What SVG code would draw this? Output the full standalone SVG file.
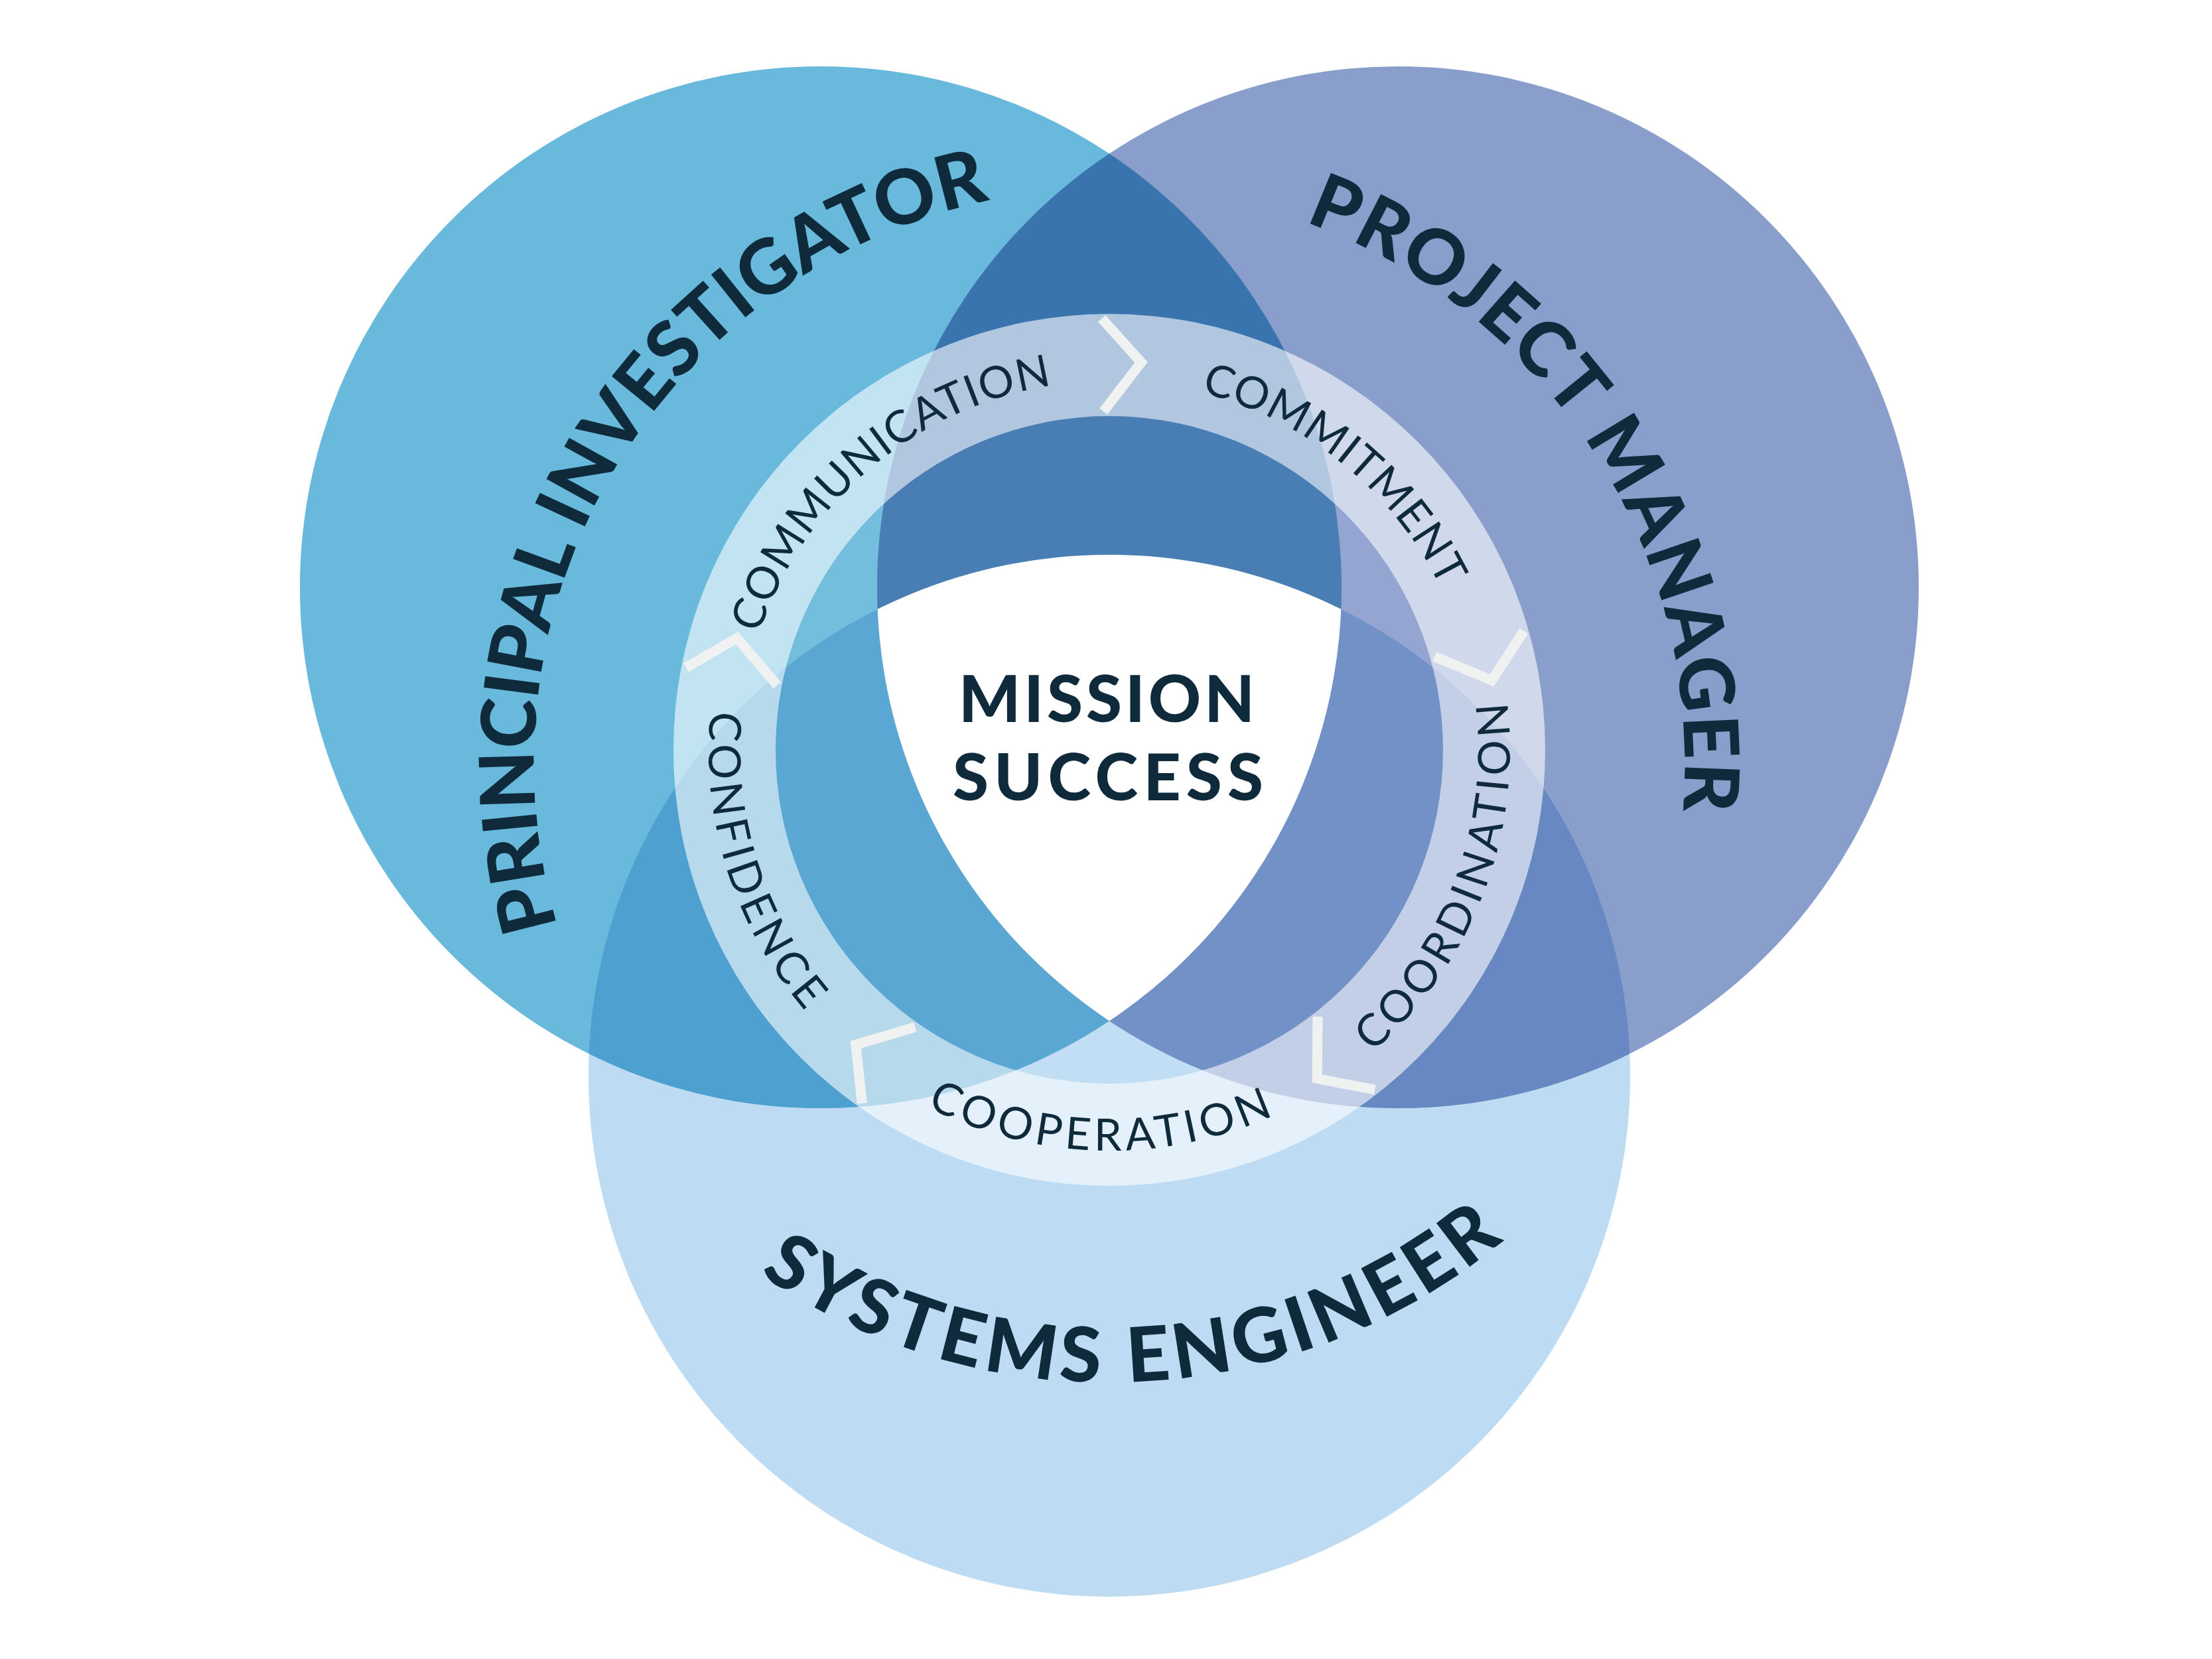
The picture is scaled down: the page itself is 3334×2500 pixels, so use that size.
<svg xmlns="http://www.w3.org/2000/svg" xmlns:xlink="http://www.w3.org/1999/xlink" width="3334" height="2500" viewBox="0 0 3334 2500">
  <style>
    .big { font-family: Lato, "Liberation Sans", sans-serif; font-weight: 900; font-size: 114px; fill: #0E2A3B; }
    .lbl { font-family: Lato, "Liberation Sans", sans-serif; font-weight: 400; font-size: 67px; fill: #0E2A3B; }
    .center { font-family: Lato, "Liberation Sans", sans-serif; font-weight: 900; font-size: 98px; fill: #0E2A3B; }
    .chev { fill: none; stroke: #F0F2F2; stroke-width: 15; stroke-linecap: butt; stroke-linejoin: miter; }
  </style>
  <defs>
    <clipPath id="clipPI"><circle cx="1237" cy="885" r="785"/></clipPath>
    <clipPath id="clipPM"><circle cx="2107" cy="885" r="785"/></clipPath>
    <path id="chevShape" d="M 650 0 L 583.1 58.2 L 510 0"/>
    <path id="pathPI" d="M 1659.9 2016.9 A 867 867 0 1 1 2428.8 727.0"/>
    <path id="pathPM" d="M 901.6 752.4 A 867 867 0 1 1 1712.8 2016.0"/>
    <path id="pathSE" d="M 843.7 720.6 A 933 933 0 1 0 2458.1 647.3"/>
    <path id="pathComm" d="M 1316.8 1557.8 A 556 556 0 1 1 2152.0 849.5"/>
    <path id="pathCommit" d="M 1186.4 859.2 A 556 556 0 1 1 2035.3 1550.9"/>
    <path id="pathCoord" d="M 1360.0 1647.2 A 604 604 0 1 0 1788.3 537.3"/>
    <path id="pathCoop" d="M 1080.0 1010.1 A 604 604 0 1 0 2269.3 1040.2"/>
    <path id="pathConf" d="M 1592.6 531.2 A 604 604 0 1 0 1951.4 1665.5"/>
  </defs>
  <rect width="3334" height="2500" fill="#FFFFFF"/>

  <g id="node-systems-engineer">
    <circle cx="1672" cy="1621" r="785" fill="#BDDCF3"/>
  </g>
  <g id="node-principal-investigator">
    <circle cx="1237" cy="885" r="785" fill="#68B9DB"/>
  </g>
  <g id="node-project-manager">
    <circle cx="2107" cy="885" r="785" fill="#8A9ECC"/>
  </g>
  <g id="overlaps">
    <circle cx="2107" cy="885" r="785" fill="#3A74AF" clip-path="url(#clipPI)"/>
    <circle cx="1672" cy="1621" r="785" fill="#4DA0D0" clip-path="url(#clipPI)"/>
    <circle cx="1672" cy="1621" r="785" fill="#6788C2" clip-path="url(#clipPM)"/>
  </g>
  <g id="ring">
    <circle cx="1672" cy="1130" r="503" fill="#FFFFFF" fill-opacity="0.08"/>
    <path d="M 1015 1130 A 657 657 0 1 0 2329 1130 A 657 657 0 1 0 1015 1130 Z M 1169 1130 A 503 503 0 1 1 2175 1130 A 503 503 0 1 1 1169 1130 Z" fill="#FFFFFF" fill-opacity="0.6" fill-rule="evenodd"/>
  </g>
  <g id="node-mission-success">
    <g clip-path="url(#clipPI)">
      <circle cx="1672" cy="1621" r="785" fill="#FFFFFF" clip-path="url(#clipPM)"/>
    </g>
    <text class="center" x="1668" y="1088" text-anchor="middle" textLength="446" lengthAdjust="spacing">MISSION</text>
    <text class="center" x="1670" y="1206" text-anchor="middle" textLength="468" lengthAdjust="spacing">SUCCESS</text>
  </g>

  <g id="connectors">
    <use href="#chevShape" class="chev" transform="translate(1672 1130) rotate(269)"/>
    <use href="#chevShape" class="chev" transform="translate(1672 1130) rotate(344)"/>
    <use href="#chevShape" class="chev" transform="translate(1672 1130) rotate(52)"/>
    <use href="#chevShape" class="chev" transform="translate(1672 1130) rotate(125)"/>
    <use href="#chevShape" class="chev" transform="translate(1672 1130) rotate(191)"/>
  </g>

  <g id="labels">
    <text class="big"><textPath href="#pathPI" startOffset="50%" text-anchor="middle" textLength="1430" lengthAdjust="spacing">PRINCIPAL INVESTIGATOR</textPath></text>
    <text class="big"><textPath href="#pathPM" startOffset="50%" text-anchor="middle" textLength="1133" lengthAdjust="spacing">PROJECT MANAGER</textPath></text>
    <text class="big"><textPath href="#pathSE" startOffset="50%" text-anchor="middle" textLength="1205" lengthAdjust="spacing">SYSTEMS ENGINEER</textPath></text>
    <text class="lbl"><textPath href="#pathComm" startOffset="50%" text-anchor="middle" textLength="609" lengthAdjust="spacing">COMMUNICATION</textPath></text>
    <text class="lbl"><textPath href="#pathCommit" startOffset="50%" text-anchor="middle" textLength="481" lengthAdjust="spacing">COMMITMENT</textPath></text>
    <text class="lbl"><textPath href="#pathCoord" startOffset="50%" text-anchor="middle" textLength="589" lengthAdjust="spacing">COORDINATION</textPath></text>
    <text class="lbl"><textPath href="#pathCoop" startOffset="50%" text-anchor="middle" textLength="541" lengthAdjust="spacing">COOPERATION</textPath></text>
    <text class="lbl"><textPath href="#pathConf" startOffset="50%" text-anchor="middle" textLength="487" lengthAdjust="spacing">CONFIDENCE</textPath></text>
  </g>
</svg>
